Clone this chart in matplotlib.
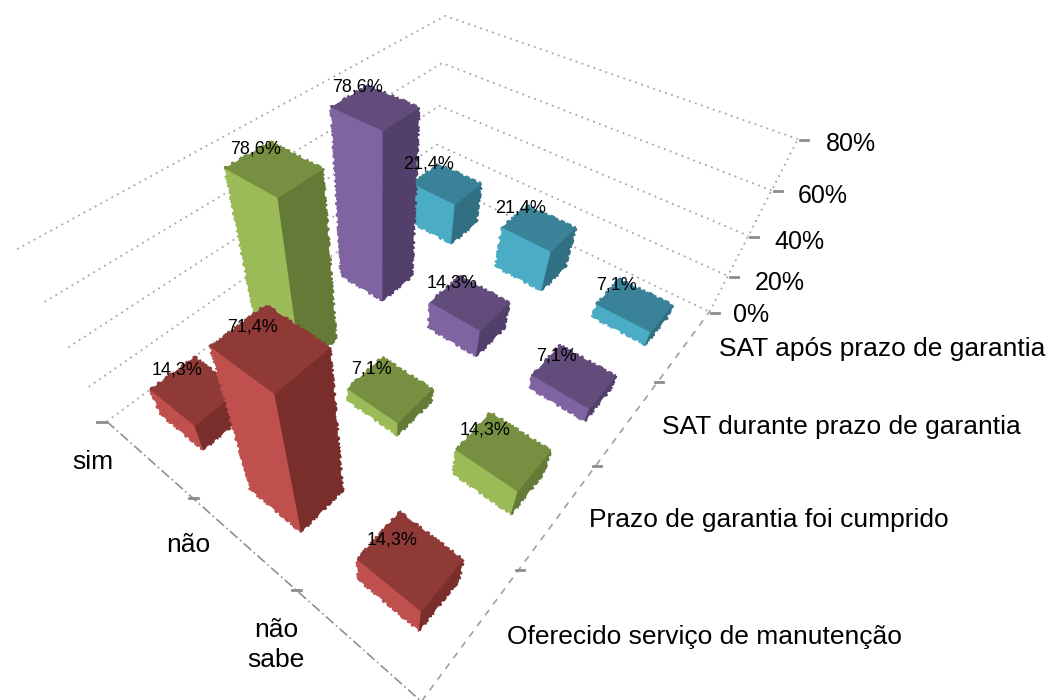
import numpy as np
import matplotlib
matplotlib.use("Agg")
from matplotlib import pyplot as plt
from matplotlib.patches import Polygon

plt.rcParams['font.family'] = ['Liberation Sans', 'DejaVu Sans']

# one list per series, rows are sim / nao / nao sabe
rows = ["sim", "não", "não\nsabe"]
oferecido = [14.3, 71.4, 14.3]
prazo = [78.6, 7.1, 14.3]
sat_durante = [78.6, 14.3, 7.1]
sat_apos = [21.4, 21.4, 7.1]
series = [oferecido, prazo, sat_durante, sat_apos]
series_names = ["Oferecido serviço de manutenção", "Prazo de garantia foi cumprido",
                "SAT durante prazo de garantia", "SAT após prazo de garantia"]
z_ticks = [0, 20, 40, 60, 80]

# left face, top, right face
colors = [("#c0504d", "#903a38", "#7a2e2c"),
          ("#9bbb59", "#768f40", "#657a36"),
          ("#8064a2", "#614c7b", "#533f6c"),
          ("#4bacc6", "#3a8298", "#316f83")]

# camera is fitted to where the box corners have to land on the figure (pixels)
anchors = [(0, 0, 0, 422, 698), (1, 0, 0, 522, 570), (2, 0, 0, 600, 467), (3, 0, 0, 660, 383),
           (4, 0, 0, 707, 312), (0, 1, 0, 290, 590), (0, 2, 0, 188, 498), (0, 3, 0, 108, 423),
           (4, 3, 20, 437, 145), (4, 3, 40, 440, 106), (4, 3, 60, 442, 62), (4, 3, 80, 445, 15),
           (4, 0, 20, 727, 275), (4, 0, 40, 747, 236), (4, 0, 60, 771, 190), (4, 0, 80, 799, 140),
           (0, 3, 20, 90, 387), (0, 3, 40, 70, 345), (0, 3, 60, 49, 301), (0, 3, 80, 13, 253)]


def fit_camera(points):
    eqs = []
    for u, v, z, px, py in points:
        w = [u, v, z / 20, 1]
        px, py = px / 500, py / 500
        eqs.append(w + [0, 0, 0, 0] + [-px * a for a in w])
        eqs.append([0, 0, 0, 0] + w + [-py * a for a in w])
    return np.linalg.svd(np.array(eqs))[2][-1].reshape(3, 4)


cam = fit_camera(anchors)


def project(u, v, z):
    x, y, w = cam @ np.array([u, v, z / 20, 1])
    return 500 * x / w, 500 * y / w


fig = plt.figure(figsize=(10.5, 7), dpi=100)
ax = fig.add_axes([0, 0, 1, 1])
ax.set_xlim(0, 1050)
ax.set_ylim(700, 0)
ax.axis("off")

grid = "#a6a6a6"
dots = (0, (1, 2.5))

# walls
for z in z_ticks:
    pts = [project(0, 3, z), project(4, 3, z), project(4, 0, z)]
    ax.plot(*zip(*pts), color=grid, lw=1.3, ls=dots, zorder=1)
ax.plot(*zip(project(4, 0, 0), project(4, 0, 80)), color=grid, lw=1.3, ls=dots, zorder=1)

# floor edges and ticks
ax.plot(*zip(project(0, 3, 0), project(0, 0, 0)), color="#909090", lw=1.2, ls=(0, (6, 2, 1, 2)), zorder=1)
ax.plot(*zip(project(0, 0, 0), project(4, 0, 0)), color="#a0a0a0", lw=1.2, ls=(0, (4, 4)), zorder=1)
for z in z_ticks:
    x, y = project(4, 0, z)
    ax.plot([x + 2, x + 10], [y + 1, y + 1], color="#8c8c8c", lw=2, zorder=1)
for i in range(1, 4):
    x, y = project(i, 0, 0)
    ax.plot([x - 3, x + 5], [y, y], color="#8c8c8c", lw=2, zorder=1)
    x, y = project(0, i, 0)
    if i == 3:
        ax.plot([x - 10, x - 1], [y, y], color="#8c8c8c", lw=2, zorder=1)
    else:
        ax.plot([x - 4, x + 5], [y, y], color="#8c8c8c", lw=2, zorder=1)

# bars, back to front
bar_u = 0.40
bar_v = 0.49
labels = []
zo = 2
for r in [0, 1, 2]:
    v0 = 2 - r + (1 - bar_v) / 2
    v1 = v0 + bar_v
    for s in [3, 2, 1, 0]:
        u0 = s + (1 - bar_u) / 2
        u1 = u0 + bar_u
        h = series[s][r]
        c_left, c_top, c_right = colors[s]
        left = [project(u0, v1, 0), project(u0, v0, 0), project(u0, v0, h), project(u0, v1, h)]
        right = [project(u0, v0, 0), project(u1, v0, 0), project(u1, v0, h), project(u0, v0, h)]
        top = [project(u0, v0, h), project(u1, v0, h), project(u1, v1, h), project(u0, v1, h)]
        faces = [(left, c_left), (right, c_right), (top, c_top)]
        # rough outline underneath, the old renderer leaves jagged silhouettes
        for poly, c in faces:
            p = Polygon(poly, closed=True, facecolor=c, edgecolor=c, lw=1.0, zorder=zo)
            p.set_sketch_params(scale=1.6, length=7, randomness=6)
            ax.add_patch(p)
        for poly, c in faces:
            ax.add_patch(Polygon(poly, closed=True, facecolor=c, edgecolor=c, lw=0.4, zorder=zo + 0.5))
        zo += 1
        cx, cy = project((u0 + u1) / 2, (v0 + v1) / 2, h)
        labels.append((cx - 18, cy - 20, "{:.1f}%".format(h).replace(".", ",")))

for x, y, txt in labels:
    ax.text(x, y, txt, fontsize=13, ha="center", va="center", color="black", zorder=50)

# axis text
txt = dict(color="black", va="center")
for z, (x, y) in zip(z_ticks, [(733, 315), (755, 283), (774, 242), (798, 196), (826, 144)]):
    ax.text(x, y, "{}%".format(z), ha="left", fontsize=18, **txt)
for name, (x, y) in zip(series_names, [(507, 637), (589, 520), (662, 427), (719, 349)]):
    ax.text(x, y, name, ha="left", fontsize=19, **txt)
for name, (x, y) in zip(rows, [(93, 462), (188, 545), (276, 645)]):
    ax.text(x, y, name, ha="center", fontsize=19, linespacing=1.34, **txt)

fig.savefig("out.png", dpi=100)
